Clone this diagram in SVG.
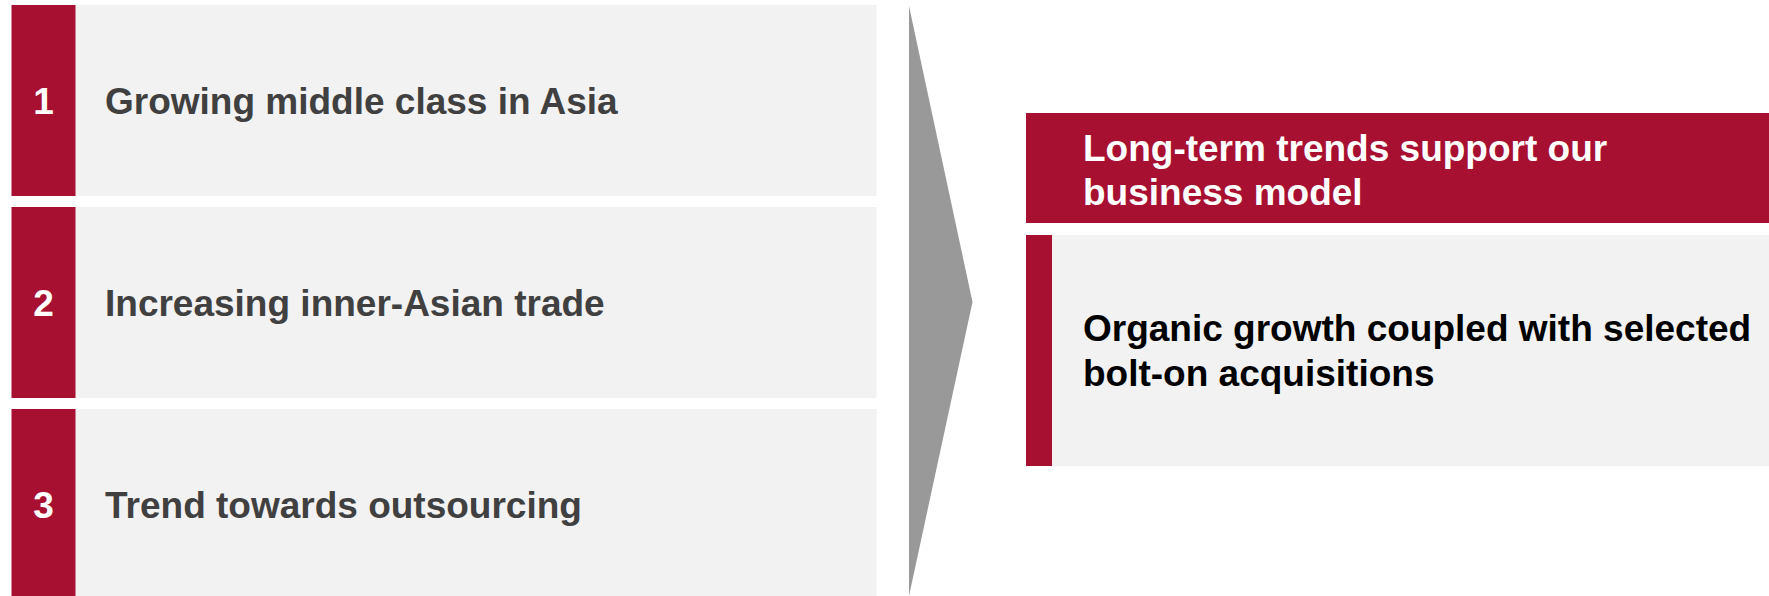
<svg xmlns="http://www.w3.org/2000/svg" width="1769" height="596" viewBox="0 0 1769 596">
  <style>
    .panel { fill: #f2f2f2; }
    .accent { fill: #a81032; }
    .num { font-family: "Liberation Sans", Arial, sans-serif; font-weight: bold; font-size: 37px; fill: #ffffff; text-anchor: middle; }
    .item { font-family: "Liberation Sans", Arial, sans-serif; font-weight: bold; font-size: 37px; fill: #404040; }
    .head { font-family: "Liberation Sans", Arial, sans-serif; font-weight: bold; font-size: 37px; fill: #ffffff; }
    .body { font-family: "Liberation Sans", Arial, sans-serif; font-weight: bold; font-size: 37px; fill: #000000; }
  </style>
  <rect width="1769" height="596" fill="#ffffff"/>

  <!-- Trend list -->
  <g id="trend-1">
    <rect class="panel" x="11.5" y="5" width="865" height="191"/>
    <rect class="accent" x="11.5" y="5" width="64" height="191"/>
    <text class="num" x="43.5" y="114">1</text>
    <text class="item" x="105" y="114">Growing middle class in Asia</text>
  </g>
  <g id="trend-2">
    <rect class="panel" x="11.5" y="207" width="865" height="191"/>
    <rect class="accent" x="11.5" y="207" width="64" height="191"/>
    <text class="num" x="43.5" y="316">2</text>
    <text class="item" x="105" y="316">Increasing inner-Asian trade</text>
  </g>
  <g id="trend-3">
    <rect class="panel" x="11.5" y="409" width="865" height="187"/>
    <rect class="accent" x="11.5" y="409" width="64" height="187"/>
    <text class="num" x="43.5" y="518">3</text>
    <text class="item" x="105" y="518">Trend towards outsourcing</text>
  </g>

  <!-- Chevron linking trends to conclusion -->
  <g id="connectors">
    <polygon points="909,6 972.5,302 909,596" fill="#999999"/>
  </g>

  <!-- Conclusion -->
  <g id="conclusion-header">
    <rect class="accent" x="1026" y="113" width="743" height="110"/>
    <text class="head" x="1083" y="161">Long-term trends support our</text>
    <text class="head" x="1083" y="205">business model</text>
  </g>
  <g id="conclusion-body">
    <rect class="panel" x="1026" y="235" width="743" height="231"/>
    <rect class="accent" x="1026" y="235" width="26" height="231"/>
    <text class="body" x="1083" y="341">Organic growth coupled with selected</text>
    <text class="body" x="1083" y="386">bolt-on acquisitions</text>
  </g>
</svg>
